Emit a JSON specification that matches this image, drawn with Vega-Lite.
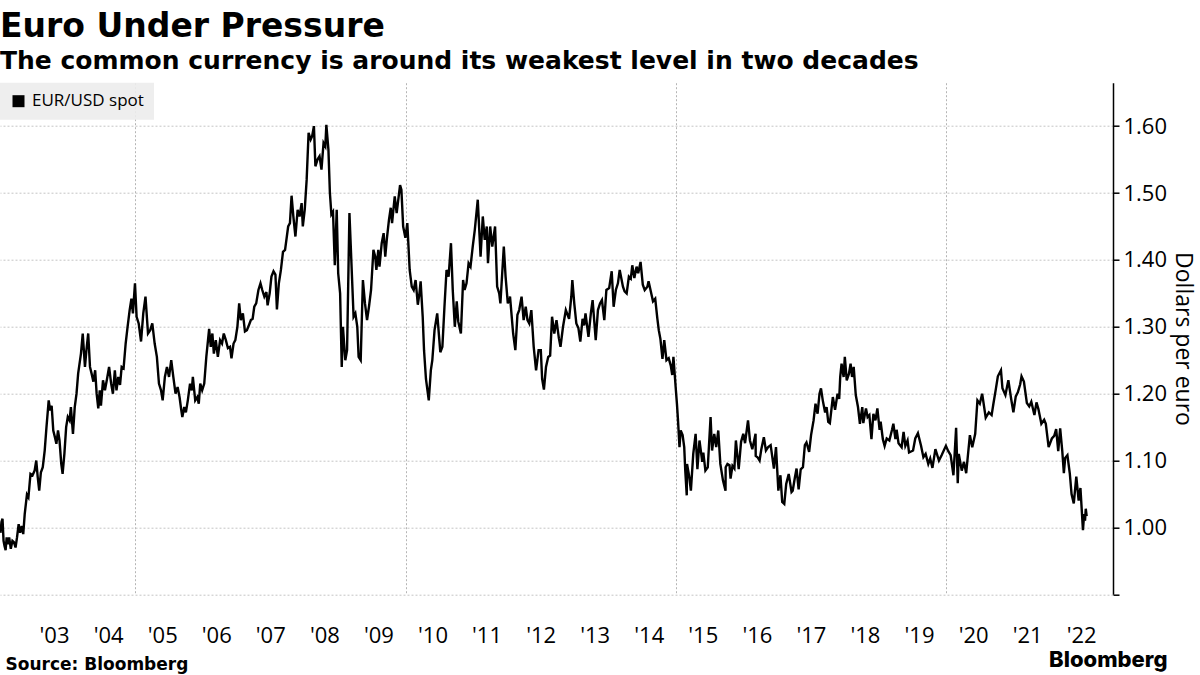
{
  "$schema": "https://vega.github.io/schema/vega-lite/v6.json",
  "width": 1113,
  "height": 511.6,
  "autosize": {"type": "none"},
  "padding": {"left": 0, "top": 82.7, "right": 87, "bottom": 80.7},
  "background": "#ffffff",
  "title": {
    "text": "Euro Under Pressure",
    "subtitle": "The common currency is around its weakest level in two decades",
    "anchor": "start",
    "frame": "group",
    "offset": 9,
    "font": "DejaVu Sans",
    "fontSize": 33,
    "fontWeight": "bold",
    "color": "#000000",
    "subtitleFont": "DejaVu Sans",
    "subtitleFontSize": 25,
    "subtitleFontWeight": "bold",
    "subtitleColor": "#000000",
    "subtitlePadding": 5
  },
  "data": {"values": [
{"date":"2002-07-05","rate":0.992},{"date":"2002-07-12","rate":1.008},{"date":"2002-07-19","rate":1.013},{"date":"2002-07-26","rate":0.980},
{"date":"2002-08-02","rate":0.972},{"date":"2002-08-09","rate":0.966},{"date":"2002-08-16","rate":0.985},{"date":"2002-08-23","rate":0.975},
{"date":"2002-09-02","rate":0.985},{"date":"2002-09-13","rate":0.968},{"date":"2002-09-24","rate":0.980},{"date":"2002-10-04","rate":0.978},
{"date":"2002-10-15","rate":0.970},{"date":"2002-10-25","rate":0.985},{"date":"2002-11-05","rate":1.005},{"date":"2002-11-15","rate":0.992},
{"date":"2002-11-26","rate":1.002},{"date":"2002-12-06","rate":0.990},{"date":"2002-12-16","rate":1.020},{"date":"2002-12-31","rate":1.049},
{"date":"2003-01-10","rate":1.045},{"date":"2003-01-24","rate":1.080},{"date":"2003-02-07","rate":1.078},{"date":"2003-02-21","rate":1.085},
{"date":"2003-03-04","rate":1.100},{"date":"2003-03-14","rate":1.075},{"date":"2003-03-24","rate":1.055},{"date":"2003-04-04","rate":1.082},
{"date":"2003-04-17","rate":1.090},{"date":"2003-04-30","rate":1.115},{"date":"2003-05-12","rate":1.150},{"date":"2003-05-27","rate":1.190},
{"date":"2003-06-06","rate":1.175},{"date":"2003-06-16","rate":1.182},{"date":"2003-06-27","rate":1.145},{"date":"2003-07-08","rate":1.135},
{"date":"2003-07-18","rate":1.125},{"date":"2003-07-29","rate":1.145},{"date":"2003-08-08","rate":1.130},{"date":"2003-08-20","rate":1.095},
{"date":"2003-08-29","rate":1.080},{"date":"2003-09-10","rate":1.110},{"date":"2003-09-22","rate":1.150},{"date":"2003-10-03","rate":1.165},
{"date":"2003-10-15","rate":1.160},{"date":"2003-10-24","rate":1.180},{"date":"2003-11-07","rate":1.140},{"date":"2003-11-19","rate":1.180},
{"date":"2003-12-01","rate":1.200},{"date":"2003-12-12","rate":1.230},{"date":"2003-12-31","rate":1.260},{"date":"2004-01-12","rate":1.290},
{"date":"2004-01-27","rate":1.240},{"date":"2004-02-06","rate":1.265},{"date":"2004-02-18","rate":1.290},{"date":"2004-03-01","rate":1.240},
{"date":"2004-03-12","rate":1.230},{"date":"2004-03-24","rate":1.218},{"date":"2004-04-05","rate":1.235},{"date":"2004-04-15","rate":1.200},
{"date":"2004-04-26","rate":1.178},{"date":"2004-05-06","rate":1.205},{"date":"2004-05-14","rate":1.182},{"date":"2004-05-28","rate":1.220},
{"date":"2004-06-10","rate":1.205},{"date":"2004-06-24","rate":1.222},{"date":"2004-07-08","rate":1.240},{"date":"2004-07-22","rate":1.215},
{"date":"2004-08-03","rate":1.200},{"date":"2004-08-16","rate":1.235},{"date":"2004-08-27","rate":1.205},{"date":"2004-09-08","rate":1.225},
{"date":"2004-09-20","rate":1.213},{"date":"2004-10-01","rate":1.240},{"date":"2004-10-14","rate":1.238},{"date":"2004-10-28","rate":1.275},
{"date":"2004-11-10","rate":1.300},{"date":"2004-11-24","rate":1.325},{"date":"2004-12-06","rate":1.342},{"date":"2004-12-16","rate":1.320},
{"date":"2004-12-30","rate":1.365},{"date":"2005-01-10","rate":1.315},{"date":"2005-01-24","rate":1.305},{"date":"2005-02-09","rate":1.278},
{"date":"2005-02-24","rate":1.320},{"date":"2005-03-11","rate":1.345},{"date":"2005-03-28","rate":1.290},{"date":"2005-04-12","rate":1.295},
{"date":"2005-04-26","rate":1.305},{"date":"2005-05-12","rate":1.275},{"date":"2005-05-27","rate":1.255},{"date":"2005-06-10","rate":1.215},
{"date":"2005-06-24","rate":1.205},{"date":"2005-07-05","rate":1.190},{"date":"2005-07-20","rate":1.225},{"date":"2005-08-03","rate":1.240},
{"date":"2005-08-17","rate":1.225},{"date":"2005-09-01","rate":1.250},{"date":"2005-09-15","rate":1.225},{"date":"2005-09-30","rate":1.200},
{"date":"2005-10-14","rate":1.210},{"date":"2005-10-27","rate":1.195},{"date":"2005-11-08","rate":1.175},{"date":"2005-11-15","rate":1.165},
{"date":"2005-11-28","rate":1.180},{"date":"2005-12-09","rate":1.172},{"date":"2005-12-22","rate":1.190},{"date":"2006-01-06","rate":1.215},
{"date":"2006-01-18","rate":1.205},{"date":"2006-01-25","rate":1.225},{"date":"2006-02-10","rate":1.190},{"date":"2006-02-24","rate":1.195},
{"date":"2006-03-06","rate":1.185},{"date":"2006-03-16","rate":1.215},{"date":"2006-03-29","rate":1.205},{"date":"2006-04-12","rate":1.215},
{"date":"2006-04-26","rate":1.255},{"date":"2006-05-05","rate":1.275},{"date":"2006-05-15","rate":1.297},{"date":"2006-05-26","rate":1.270},
{"date":"2006-06-06","rate":1.290},{"date":"2006-06-16","rate":1.260},{"date":"2006-06-29","rate":1.280},{"date":"2006-07-13","rate":1.255},
{"date":"2006-07-28","rate":1.280},{"date":"2006-08-10","rate":1.275},{"date":"2006-08-22","rate":1.290},{"date":"2006-09-05","rate":1.280},
{"date":"2006-09-19","rate":1.268},{"date":"2006-10-03","rate":1.270},{"date":"2006-10-13","rate":1.253},{"date":"2006-10-27","rate":1.275},
{"date":"2006-11-08","rate":1.280},{"date":"2006-11-22","rate":1.300},{"date":"2006-12-04","rate":1.335},{"date":"2006-12-15","rate":1.310},
{"date":"2006-12-29","rate":1.320},{"date":"2007-01-12","rate":1.293},{"date":"2007-01-25","rate":1.295},{"date":"2007-02-07","rate":1.302},
{"date":"2007-02-21","rate":1.310},{"date":"2007-03-05","rate":1.312},{"date":"2007-03-16","rate":1.330},{"date":"2007-03-29","rate":1.335},
{"date":"2007-04-13","rate":1.355},{"date":"2007-04-27","rate":1.365},{"date":"2007-05-09","rate":1.355},{"date":"2007-05-23","rate":1.345},
{"date":"2007-06-06","rate":1.352},{"date":"2007-06-14","rate":1.332},{"date":"2007-06-28","rate":1.350},{"date":"2007-07-10","rate":1.375},
{"date":"2007-07-24","rate":1.383},{"date":"2007-08-06","rate":1.378},{"date":"2007-08-16","rate":1.326},{"date":"2007-08-29","rate":1.365},
{"date":"2007-09-12","rate":1.385},{"date":"2007-09-26","rate":1.412},{"date":"2007-10-10","rate":1.415},{"date":"2007-10-31","rate":1.450},
{"date":"2007-11-12","rate":1.455},{"date":"2007-11-23","rate":1.496},{"date":"2007-12-05","rate":1.465},{"date":"2007-12-19","rate":1.435},
{"date":"2008-01-03","rate":1.475},{"date":"2008-01-16","rate":1.465},{"date":"2008-01-30","rate":1.485},{"date":"2008-02-07","rate":1.450},
{"date":"2008-02-20","rate":1.475},{"date":"2008-03-04","rate":1.520},{"date":"2008-03-17","rate":1.590},{"date":"2008-03-31","rate":1.580},
{"date":"2008-04-10","rate":1.585},{"date":"2008-04-22","rate":1.600},{"date":"2008-05-02","rate":1.540},{"date":"2008-05-16","rate":1.550},
{"date":"2008-05-30","rate":1.555},{"date":"2008-06-12","rate":1.535},{"date":"2008-06-26","rate":1.575},{"date":"2008-07-08","rate":1.570},
{"date":"2008-07-15","rate":1.602},{"date":"2008-07-29","rate":1.565},{"date":"2008-08-08","rate":1.500},{"date":"2008-08-18","rate":1.468},
{"date":"2008-08-29","rate":1.472},{"date":"2008-09-10","rate":1.392},{"date":"2008-09-23","rate":1.475},{"date":"2008-10-03","rate":1.380},
{"date":"2008-10-16","rate":1.350},{"date":"2008-10-27","rate":1.240},{"date":"2008-11-04","rate":1.300},{"date":"2008-11-20","rate":1.250},
{"date":"2008-12-02","rate":1.265},{"date":"2008-12-18","rate":1.470},{"date":"2008-12-31","rate":1.398},{"date":"2009-01-15","rate":1.315},
{"date":"2009-01-27","rate":1.320},{"date":"2009-02-09","rate":1.300},{"date":"2009-02-18","rate":1.255},{"date":"2009-03-04","rate":1.250},
{"date":"2009-03-19","rate":1.370},{"date":"2009-04-02","rate":1.335},{"date":"2009-04-16","rate":1.310},{"date":"2009-04-29","rate":1.330},
{"date":"2009-05-13","rate":1.355},{"date":"2009-05-29","rate":1.415},{"date":"2009-06-10","rate":1.405},{"date":"2009-06-18","rate":1.385},
{"date":"2009-07-01","rate":1.415},{"date":"2009-07-09","rate":1.390},{"date":"2009-07-24","rate":1.425},{"date":"2009-08-06","rate":1.440},
{"date":"2009-08-17","rate":1.405},{"date":"2009-08-28","rate":1.432},{"date":"2009-09-11","rate":1.460},{"date":"2009-09-23","rate":1.478},
{"date":"2009-10-02","rate":1.455},{"date":"2009-10-20","rate":1.495},{"date":"2009-11-02","rate":1.470},{"date":"2009-11-25","rate":1.512},
{"date":"2009-12-04","rate":1.505},{"date":"2009-12-16","rate":1.450},{"date":"2009-12-31","rate":1.433},{"date":"2010-01-13","rate":1.455},
{"date":"2010-01-29","rate":1.385},{"date":"2010-02-12","rate":1.360},{"date":"2010-02-25","rate":1.355},{"date":"2010-03-10","rate":1.370},
{"date":"2010-03-25","rate":1.333},{"date":"2010-04-05","rate":1.350},{"date":"2010-04-13","rate":1.368},{"date":"2010-04-27","rate":1.315},
{"date":"2010-05-06","rate":1.265},{"date":"2010-05-19","rate":1.222},{"date":"2010-06-07","rate":1.190},{"date":"2010-06-21","rate":1.235},
{"date":"2010-07-01","rate":1.250},{"date":"2010-07-16","rate":1.295},{"date":"2010-08-03","rate":1.320},{"date":"2010-08-24","rate":1.262},
{"date":"2010-09-07","rate":1.270},{"date":"2010-09-21","rate":1.330},{"date":"2010-10-05","rate":1.385},{"date":"2010-10-19","rate":1.375},
{"date":"2010-11-04","rate":1.425},{"date":"2010-11-16","rate":1.355},{"date":"2010-11-30","rate":1.300},{"date":"2010-12-13","rate":1.338},
{"date":"2010-12-23","rate":1.308},{"date":"2011-01-10","rate":1.290},{"date":"2011-01-25","rate":1.370},{"date":"2011-02-04","rate":1.355},
{"date":"2011-02-17","rate":1.365},{"date":"2011-03-03","rate":1.395},{"date":"2011-03-16","rate":1.390},{"date":"2011-03-31","rate":1.420},
{"date":"2011-04-14","rate":1.445},{"date":"2011-05-04","rate":1.490},{"date":"2011-05-23","rate":1.405},{"date":"2011-06-07","rate":1.465},
{"date":"2011-06-20","rate":1.430},{"date":"2011-07-04","rate":1.450},{"date":"2011-07-12","rate":1.395},{"date":"2011-07-27","rate":1.450},
{"date":"2011-08-10","rate":1.420},{"date":"2011-08-29","rate":1.450},{"date":"2011-09-12","rate":1.360},{"date":"2011-09-26","rate":1.350},
{"date":"2011-10-04","rate":1.335},{"date":"2011-10-27","rate":1.420},{"date":"2011-11-08","rate":1.375},{"date":"2011-11-23","rate":1.335},
{"date":"2011-12-08","rate":1.345},{"date":"2011-12-29","rate":1.290},{"date":"2012-01-13","rate":1.265},{"date":"2012-01-27","rate":1.318},
{"date":"2012-02-08","rate":1.325},{"date":"2012-02-24","rate":1.345},{"date":"2012-03-09","rate":1.310},{"date":"2012-03-23","rate":1.330},
{"date":"2012-04-04","rate":1.310},{"date":"2012-04-16","rate":1.305},{"date":"2012-04-30","rate":1.325},{"date":"2012-05-16","rate":1.270},
{"date":"2012-06-01","rate":1.235},{"date":"2012-06-18","rate":1.265},{"date":"2012-07-03","rate":1.265},{"date":"2012-07-12","rate":1.222},
{"date":"2012-07-24","rate":1.206},{"date":"2012-08-07","rate":1.240},{"date":"2012-08-22","rate":1.255},{"date":"2012-09-04","rate":1.257},
{"date":"2012-09-17","rate":1.315},{"date":"2012-10-02","rate":1.290},{"date":"2012-10-17","rate":1.310},{"date":"2012-11-02","rate":1.283},
{"date":"2012-11-13","rate":1.270},{"date":"2012-11-30","rate":1.300},{"date":"2012-12-19","rate":1.325},{"date":"2013-01-10","rate":1.312},
{"date":"2013-01-25","rate":1.345},{"date":"2013-02-01","rate":1.370},{"date":"2013-02-14","rate":1.335},{"date":"2013-02-28","rate":1.305},
{"date":"2013-03-14","rate":1.298},{"date":"2013-03-27","rate":1.278},{"date":"2013-04-11","rate":1.312},{"date":"2013-04-22","rate":1.302},
{"date":"2013-05-01","rate":1.320},{"date":"2013-05-21","rate":1.285},{"date":"2013-06-06","rate":1.320},{"date":"2013-06-18","rate":1.340},
{"date":"2013-07-09","rate":1.280},{"date":"2013-07-24","rate":1.325},{"date":"2013-08-07","rate":1.335},{"date":"2013-08-20","rate":1.340},
{"date":"2013-09-05","rate":1.310},{"date":"2013-09-19","rate":1.355},{"date":"2013-10-08","rate":1.358},{"date":"2013-10-25","rate":1.383},
{"date":"2013-11-07","rate":1.330},{"date":"2013-11-22","rate":1.355},{"date":"2013-12-06","rate":1.365},{"date":"2013-12-18","rate":1.385},
{"date":"2014-01-09","rate":1.360},{"date":"2014-01-20","rate":1.353},{"date":"2014-02-03","rate":1.350},{"date":"2014-02-18","rate":1.375},
{"date":"2014-03-03","rate":1.372},{"date":"2014-03-13","rate":1.392},{"date":"2014-03-27","rate":1.373},{"date":"2014-04-11","rate":1.390},
{"date":"2014-04-22","rate":1.380},{"date":"2014-05-08","rate":1.397},{"date":"2014-05-23","rate":1.363},{"date":"2014-06-05","rate":1.355},
{"date":"2014-06-23","rate":1.360},{"date":"2014-07-01","rate":1.368},{"date":"2014-07-16","rate":1.353},{"date":"2014-07-31","rate":1.338},
{"date":"2014-08-15","rate":1.342},{"date":"2014-08-29","rate":1.313},{"date":"2014-09-08","rate":1.295},{"date":"2014-09-19","rate":1.282},
{"date":"2014-10-03","rate":1.252},{"date":"2014-10-15","rate":1.280},{"date":"2014-10-30","rate":1.250},{"date":"2014-11-14","rate":1.253},
{"date":"2014-11-28","rate":1.242},{"date":"2014-12-08","rate":1.228},{"date":"2014-12-16","rate":1.255},{"date":"2014-12-31","rate":1.210},
{"date":"2015-01-09","rate":1.184},{"date":"2015-01-16","rate":1.160},{"date":"2015-01-26","rate":1.120},{"date":"2015-02-03","rate":1.145},
{"date":"2015-02-16","rate":1.138},{"date":"2015-02-27","rate":1.120},{"date":"2015-03-06","rate":1.085},{"date":"2015-03-16","rate":1.048},
{"date":"2015-03-18","rate":1.095},{"date":"2015-04-01","rate":1.077},{"date":"2015-04-13","rate":1.055},{"date":"2015-04-29","rate":1.110},
{"date":"2015-05-15","rate":1.140},{"date":"2015-05-27","rate":1.087},{"date":"2015-06-10","rate":1.130},{"date":"2015-06-29","rate":1.098},
{"date":"2015-07-06","rate":1.112},{"date":"2015-07-20","rate":1.085},{"date":"2015-08-05","rate":1.090},{"date":"2015-08-24","rate":1.165},
{"date":"2015-09-03","rate":1.115},{"date":"2015-09-18","rate":1.140},{"date":"2015-10-01","rate":1.120},{"date":"2015-10-15","rate":1.145},
{"date":"2015-10-29","rate":1.095},{"date":"2015-11-16","rate":1.070},{"date":"2015-12-03","rate":1.055},{"date":"2015-12-04","rate":1.090},
{"date":"2015-12-16","rate":1.095},{"date":"2015-12-30","rate":1.093},{"date":"2016-01-06","rate":1.073},{"date":"2016-01-19","rate":1.092},
{"date":"2016-02-01","rate":1.088},{"date":"2016-02-11","rate":1.130},{"date":"2016-03-01","rate":1.087},{"date":"2016-03-17","rate":1.128},
{"date":"2016-04-01","rate":1.140},{"date":"2016-04-13","rate":1.126},{"date":"2016-05-03","rate":1.160},{"date":"2016-05-16","rate":1.130},
{"date":"2016-06-01","rate":1.117},{"date":"2016-06-23","rate":1.140},{"date":"2016-06-24","rate":1.107},{"date":"2016-07-06","rate":1.105},
{"date":"2016-07-20","rate":1.100},{"date":"2016-08-01","rate":1.117},{"date":"2016-08-18","rate":1.135},{"date":"2016-09-01","rate":1.115},
{"date":"2016-09-16","rate":1.120},{"date":"2016-10-03","rate":1.123},{"date":"2016-10-25","rate":1.088},{"date":"2016-11-08","rate":1.120},
{"date":"2016-11-24","rate":1.055},{"date":"2016-12-08","rate":1.078},{"date":"2016-12-20","rate":1.038},{"date":"2017-01-03","rate":1.035},
{"date":"2017-01-16","rate":1.065},{"date":"2017-02-02","rate":1.080},{"date":"2017-02-21","rate":1.053},{"date":"2017-03-01","rate":1.055},
{"date":"2017-03-16","rate":1.075},{"date":"2017-03-27","rate":1.088},{"date":"2017-04-10","rate":1.057},{"date":"2017-04-24","rate":1.087},
{"date":"2017-05-09","rate":1.090},{"date":"2017-05-22","rate":1.123},{"date":"2017-06-02","rate":1.127},{"date":"2017-06-20","rate":1.113},
{"date":"2017-07-03","rate":1.138},{"date":"2017-07-20","rate":1.160},{"date":"2017-08-02","rate":1.185},{"date":"2017-08-16","rate":1.170},
{"date":"2017-08-29","rate":1.200},{"date":"2017-09-08","rate":1.208},{"date":"2017-09-20","rate":1.190},{"date":"2017-10-06","rate":1.172},
{"date":"2017-10-16","rate":1.180},{"date":"2017-10-27","rate":1.158},{"date":"2017-11-07","rate":1.156},{"date":"2017-11-27","rate":1.195},
{"date":"2017-12-12","rate":1.176},{"date":"2017-12-29","rate":1.200},{"date":"2018-01-09","rate":1.192},{"date":"2018-01-16","rate":1.225},
{"date":"2018-01-25","rate":1.245},{"date":"2018-02-08","rate":1.225},{"date":"2018-02-16","rate":1.255},{"date":"2018-03-01","rate":1.220},
{"date":"2018-03-16","rate":1.230},{"date":"2018-03-27","rate":1.245},{"date":"2018-04-06","rate":1.225},{"date":"2018-04-17","rate":1.240},
{"date":"2018-05-01","rate":1.198},{"date":"2018-05-16","rate":1.180},{"date":"2018-05-29","rate":1.155},{"date":"2018-06-14","rate":1.180},
{"date":"2018-06-21","rate":1.156},{"date":"2018-07-09","rate":1.178},{"date":"2018-07-20","rate":1.165},{"date":"2018-08-01","rate":1.168},
{"date":"2018-08-15","rate":1.132},{"date":"2018-08-28","rate":1.170},{"date":"2018-09-11","rate":1.160},{"date":"2018-09-24","rate":1.178},
{"date":"2018-10-09","rate":1.146},{"date":"2018-10-16","rate":1.158},{"date":"2018-10-31","rate":1.132},{"date":"2018-11-12","rate":1.122},
{"date":"2018-11-26","rate":1.133},{"date":"2018-12-14","rate":1.130},{"date":"2019-01-01","rate":1.146},{"date":"2019-01-10","rate":1.155},
{"date":"2019-01-24","rate":1.132},{"date":"2019-02-01","rate":1.146},{"date":"2019-02-14","rate":1.126},{"date":"2019-03-07","rate":1.120},
{"date":"2019-03-20","rate":1.143},{"date":"2019-04-01","rate":1.122},{"date":"2019-04-16","rate":1.130},{"date":"2019-04-26","rate":1.112},
{"date":"2019-05-23","rate":1.115},{"date":"2019-06-07","rate":1.133},{"date":"2019-06-25","rate":1.141},{"date":"2019-07-16","rate":1.122},
{"date":"2019-08-01","rate":1.105},{"date":"2019-08-16","rate":1.110},{"date":"2019-09-03","rate":1.095},{"date":"2019-09-16","rate":1.103},
{"date":"2019-10-01","rate":1.089},{"date":"2019-10-21","rate":1.117},{"date":"2019-11-14","rate":1.100},{"date":"2019-12-02","rate":1.108},
{"date":"2019-12-31","rate":1.122},{"date":"2020-01-16","rate":1.114},{"date":"2020-02-01","rate":1.108},{"date":"2020-02-20","rate":1.078},
{"date":"2020-03-09","rate":1.149},{"date":"2020-03-20","rate":1.066},{"date":"2020-03-27","rate":1.110},{"date":"2020-04-16","rate":1.085},
{"date":"2020-05-01","rate":1.098},{"date":"2020-05-16","rate":1.081},{"date":"2020-06-10","rate":1.138},{"date":"2020-06-26","rate":1.120},
{"date":"2020-07-16","rate":1.140},{"date":"2020-07-31","rate":1.190},{"date":"2020-08-16","rate":1.185},{"date":"2020-09-01","rate":1.200},
{"date":"2020-09-25","rate":1.164},{"date":"2020-10-16","rate":1.172},{"date":"2020-11-04","rate":1.168},{"date":"2020-11-16","rate":1.185},
{"date":"2020-12-01","rate":1.205},{"date":"2020-12-16","rate":1.226},{"date":"2021-01-06","rate":1.235},{"date":"2021-01-16","rate":1.208},
{"date":"2021-02-05","rate":1.198},{"date":"2021-02-25","rate":1.220},{"date":"2021-03-16","rate":1.192},{"date":"2021-03-31","rate":1.172},
{"date":"2021-04-16","rate":1.196},{"date":"2021-04-30","rate":1.202},{"date":"2021-05-16","rate":1.214},{"date":"2021-05-25","rate":1.226},
{"date":"2021-06-10","rate":1.218},{"date":"2021-06-30","rate":1.186},{"date":"2021-07-16","rate":1.181},{"date":"2021-07-30","rate":1.188},
{"date":"2021-08-20","rate":1.168},{"date":"2021-09-03","rate":1.187},{"date":"2021-09-16","rate":1.177},{"date":"2021-10-06","rate":1.155},
{"date":"2021-10-25","rate":1.161},{"date":"2021-11-05","rate":1.155},{"date":"2021-11-24","rate":1.120},{"date":"2021-12-16","rate":1.133},
{"date":"2022-01-01","rate":1.137},{"date":"2022-01-14","rate":1.147},{"date":"2022-01-28","rate":1.114},{"date":"2022-02-10","rate":1.148},
{"date":"2022-02-24","rate":1.115},{"date":"2022-03-07","rate":1.081},{"date":"2022-03-16","rate":1.104},{"date":"2022-03-31","rate":1.108},
{"date":"2022-04-16","rate":1.081},{"date":"2022-04-28","rate":1.050},{"date":"2022-05-13","rate":1.036},{"date":"2022-05-30","rate":1.076},
{"date":"2022-06-15","rate":1.040},{"date":"2022-06-27","rate":1.059},{"date":"2022-07-14","rate":0.996},{"date":"2022-07-22","rate":1.020},
{"date":"2022-07-28","rate":1.010},{"date":"2022-08-02","rate":1.028},{"date":"2022-08-08","rate":1.017}
  ]},
  "layer": [
    {
      "mark": {"type": "line", "strokeWidth": 2.4, "strokeJoin": "miter"},
      "encoding": {
        "x": {
          "field": "date",
          "type": "temporal",
          "scale": {"type": "utc", "nice": false, "domain": [{"year": 2002, "month": 7, "date": 2, "utc": true}, {"year": 2023, "month": 2, "date": 2, "utc": true}]},
          "axis": {
            "values": [
              {"year": 2003, "month": 7, "date": 2, "utc": true}, {"year": 2004, "month": 7, "date": 2, "utc": true},
              {"year": 2005, "month": 1, "date": 1, "utc": true}, {"year": 2005, "month": 7, "date": 2, "utc": true},
              {"year": 2006, "month": 7, "date": 2, "utc": true}, {"year": 2007, "month": 7, "date": 2, "utc": true},
              {"year": 2008, "month": 7, "date": 2, "utc": true}, {"year": 2009, "month": 7, "date": 2, "utc": true},
              {"year": 2010, "month": 1, "date": 1, "utc": true}, {"year": 2010, "month": 7, "date": 2, "utc": true},
              {"year": 2011, "month": 7, "date": 2, "utc": true}, {"year": 2012, "month": 7, "date": 2, "utc": true},
              {"year": 2013, "month": 7, "date": 2, "utc": true}, {"year": 2014, "month": 7, "date": 2, "utc": true},
              {"year": 2015, "month": 1, "date": 1, "utc": true}, {"year": 2015, "month": 7, "date": 2, "utc": true},
              {"year": 2016, "month": 7, "date": 2, "utc": true}, {"year": 2017, "month": 7, "date": 2, "utc": true},
              {"year": 2018, "month": 7, "date": 2, "utc": true}, {"year": 2019, "month": 7, "date": 2, "utc": true},
              {"year": 2020, "month": 1, "date": 1, "utc": true}, {"year": 2020, "month": 7, "date": 2, "utc": true},
              {"year": 2021, "month": 7, "date": 2, "utc": true}, {"year": 2022, "month": 7, "date": 2, "utc": true}
            ],
            "labelExpr": "utcmonth(datum.value) == 6 ? \"'\" + utcFormat(datum.value, '%y') : ''",
            "labelOverlap": false,
            "labelFlush": false,
            "labelFont": "Open Sans",
            "labelFontSize": 22,
            "labelColor": "#000000",
            "labelBaseline": "alphabetic",
            "labelAlign": "center",
            "labelPadding": 48,
            "ticks": false,
            "tickSize": 0,
            "domain": false,
            "grid": true,
            "gridColor": "#b5b5b5",
            "gridDash": [2, 2],
            "gridWidth": 1,
            "gridOpacity": {"condition": {"test": "utcmonth(datum.value) == 0", "value": 1}, "value": 0},
            "title": "Source: Bloomberg",
            "titleFont": "DejaVu Sans",
            "titleFontSize": 17,
            "titleFontWeight": "bold",
            "titleColor": "#000000",
            "titleAnchor": "start",
            "titleAlign": "left",
            "titleBaseline": "alphabetic",
            "titleX": 5,
            "titleY": 75
          }
        },
        "y": {
          "field": "rate",
          "type": "quantitative",
          "scale": {"domain": [0.9, 1.665], "nice": false, "zero": false},
          "axis": {
            "orient": "right",
            "values": [0.9, 0.95, 1.0, 1.05, 1.1, 1.15, 1.2, 1.25, 1.3, 1.35, 1.4, 1.45, 1.5, 1.55, 1.6, 1.65],
            "labelExpr": "round(datum.value * 100) % 10 == 0 && datum.value > 0.95 ? format(datum.value, '.2f') : ''",
            "labelOverlap": false,
            "labelFont": "Open Sans",
            "labelFontSize": 22,
            "labelColor": "#000000",
            "labelPadding": 4,
            "tickSize": 6,
            "tickColor": "#000000",
            "tickWidth": 1.5,
            "domain": true,
            "domainColor": "#000000",
            "domainWidth": 1.5,
            "grid": true,
            "gridColor": "#c4c4c4",
            "gridDash": [2, 2],
            "gridWidth": 1,
            "gridOpacity": {"condition": {"test": "round(datum.value * 100) % 10 == 0", "value": 1}, "value": 0},
            "title": "Dollars per euro",
            "titleFont": "Open Sans",
            "titleFontSize": 23,
            "titleFontWeight": "normal",
            "titleColor": "#000000",
            "titlePadding": 4
          }
        },
        "color": {
          "datum": "EUR/USD spot",
          "scale": {"range": ["#000000"]},
          "legend": {
            "title": null,
            "orient": "top-left",
            "offset": 0,
            "padding": 10,
            "fillColor": "rgba(236,236,236,0.9)",
            "symbolType": "square",
            "symbolSize": 144,
            "symbolFillColor": "#000000",
            "symbolStrokeWidth": 0,
            "labelFont": "Open Sans",
            "labelFontSize": 17,
            "labelColor": "#000000",
            "labelOffset": 5,
            "encode": {"symbols": {"update": {"fill": {"value": "#000000"}, "stroke": {"value": "#000000"}, "strokeWidth": {"value": 0}, "opacity": {"value": 1}}}}
          }
        }
      }
    },
    {
      "mark": {"type": "line", "opacity": 0},
      "encoding": {
        "x": {
          "field": "date",
          "type": "temporal",
          "axis": {
            "orient": "bottom",
            "labels": false,
            "ticks": false,
            "domain": false,
            "grid": false,
            "title": "Bloomberg",
            "titleFont": "Inter",
            "titleFontSize": 22,
            "titleFontWeight": 800,
            "titleColor": "#000000",
            "titleAnchor": "end",
            "titleAlign": "right",
            "titleBaseline": "alphabetic",
            "titleX": 1167,
            "titleY": 72.5
          }
        },
        "y": {"field": "rate", "type": "quantitative"}
      }
    }
  ],
  "resolve": {"axis": {"x": "independent"}},
  "config": {"view": {"stroke": null}}
}
